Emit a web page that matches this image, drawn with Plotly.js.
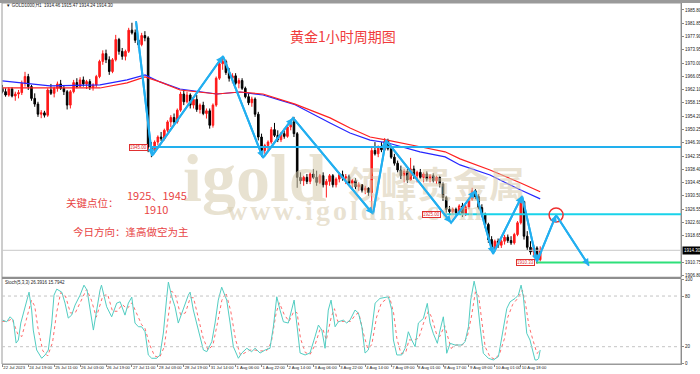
<!DOCTYPE html>
<html><head><meta charset="utf-8">
<script src="https://cdn.plot.ly/plotly-3.0.1.min.js"></script>
<style>html,body{margin:0;padding:0;background:#fff}#chart{width:700px;height:374px}</style>
</head><body><div id="chart"></div>
<script>
// ---- Candles (2-hour steps) ----
const openP = [
1962.5,1961.5,1960.5,1962.3,1960.2,1960.8,1961.2,1964.0,1966.0,1963.0,
1959.5,1957.8,1954.8,1955.2,1954.5,1962.0,1961.0,1962.5,1963.8,1962.5,
1961.5,1957.5,1961.5,1964.2,1963.0,1965.0,1963.8,1964.5,1962.8,1963.5,
1966.0,1970.5,1972.8,1971.0,1967.5,1971.0,1977.0,1973.5,1972.0,1973.5,
1979.8,1979.0,1976.8,1975.5,1978.2,1977.5,1945.0,1944.5,1946.5,1948.0,
1947.5,1950.0,1952.5,1953.8,1952.5,1956.0,1960.8,1958.5,1960.5,1957.5,
1959.2,1956.2,1957.5,1955.0,1955.8,1951.5,1957.5,1965.5,1969.8,1970.5,
1967.2,1965.5,1966.2,1964.0,1964.8,1962.5,1960.0,1958.2,1959.3,1954.8,
1948.0,1944.0,1945.5,1946.5,1950.2,1948.5,1947.2,1949.0,1948.2,1951.0,
1952.5,1949.0,1936.0,1935.0,1936.0,1934.8,1937.0,1936.0,1934.5,1936.5,
1933.8,1934.8,1936.5,1933.8,1935.5,1936.8,1935.8,1936.2,1934.2,1935.0,
1933.2,1933.8,1932.2,1932.8,1931.5,1944.0,1943.0,1945.0,1944.2,1946.8,
1944.5,1942.0,1940.2,1938.2,1936.5,1937.8,1935.2,1938.5,1936.5,1937.5,
1936.0,1937.0,1935.5,1936.5,1935.0,1936.0,1934.0,1930.0,1926.5,1925.8,
1926.5,1925.5,1927.5,1925.0,1927.2,1929.5,1932.0,1930.2,1927.0,1924.8,
1922.0,1917.5,1914.8,1917.0,1915.8,1917.0,1918.2,1917.2,1916.5,1919.0,
1922.5,1928.8,1918.5,1915.2,1913.8,1915.0,1911.5];
const highP = [
1963.5,1962.5,1962.8,1962.8,1961.5,1962.0,1964.8,1967.4,1966.8,1963.5,
1961.0,1958.5,1956.0,1955.8,1962.5,1963.8,1963.0,1964.5,1965.0,1963.5,
1962.0,1962.0,1965.0,1965.5,1965.8,1966.0,1965.0,1965.2,1964.0,1966.5,
1971.0,1973.8,1974.0,1972.0,1971.5,1978.4,1977.5,1974.5,1974.0,1980.5,
1982.0,1980.0,1977.5,1979.0,1979.5,1978.0,1946.5,1947.0,1948.5,1949.5,
1950.5,1953.0,1954.5,1955.0,1956.5,1961.5,1962.0,1961.5,1961.0,1960.0,
1960.5,1958.0,1958.5,1956.5,1956.5,1958.0,1966.0,1970.5,1971.8,1971.0,
1968.5,1967.0,1967.0,1965.5,1965.5,1963.0,1961.0,1960.0,1959.8,1955.5,
1949.0,1946.0,1947.0,1951.0,1952.2,1950.0,1949.5,1950.5,1951.5,1953.0,
1954.0,1949.5,1937.5,1936.5,1937.0,1937.5,1938.5,1938.0,1937.0,1937.5,
1935.5,1937.0,1937.0,1936.0,1937.5,1938.0,1937.0,1936.8,1935.5,1935.8,
1934.5,1934.0,1933.5,1933.0,1945.0,1946.5,1945.5,1946.5,1947.7,1947.5,
1945.0,1943.0,1941.0,1939.5,1938.5,1938.5,1941.8,1939.5,1938.0,1938.5,
1937.5,1937.8,1937.0,1937.2,1936.5,1936.5,1934.5,1930.5,1927.5,1927.0,
1927.0,1928.0,1928.4,1927.8,1930.0,1932.9,1932.5,1931.0,1928.0,1925.5,
1922.5,1918.5,1917.5,1917.8,1917.5,1918.9,1919.0,1918.5,1919.5,1923.0,
1930.2,1929.0,1920.0,1917.0,1916.0,1915.5,1915.47];
const lowP = [
1961.0,1960.0,1960.0,1959.8,1958.8,1959.5,1960.5,1963.0,1962.0,1958.8,
1957.0,1954.0,1953.6,1953.8,1954.0,1960.5,1959.8,1961.5,1962.0,1960.5,
1956.2,1956.5,1961.0,1962.5,1962.8,1963.0,1962.3,1962.0,1961.8,1962.8,
1965.5,1969.5,1970.0,1966.5,1967.0,1970.5,1972.5,1971.0,1970.8,1973.0,
1978.5,1976.0,1974.5,1975.0,1976.5,1943.5,1942.0,1943.5,1945.5,1946.8,
1947.0,1949.5,1951.0,1951.5,1952.0,1955.5,1957.5,1958.0,1956.5,1956.5,
1955.5,1955.0,1954.5,1953.5,1950.5,1950.8,1957.0,1965.0,1968.0,1966.5,
1964.5,1964.0,1963.5,1962.5,1962.0,1959.5,1957.5,1957.0,1954.0,1947.0,
1942.1,1943.0,1944.0,1946.0,1948.0,1946.5,1946.5,1947.5,1947.8,1950.0,
1948.0,1932.9,1934.0,1933.5,1934.0,1934.0,1935.5,1933.5,1934.0,1933.0,
1930.0,1933.5,1933.0,1933.0,1934.5,1935.0,1934.0,1933.5,1932.5,1932.5,
1932.0,1931.5,1931.0,1930.5,1925.5,1942.5,1942.0,1943.5,1943.8,1944.0,
1941.5,1939.5,1937.5,1935.5,1934.5,1934.4,1935.0,1935.5,1934.5,1935.5,
1934.5,1934.8,1934.5,1934.5,1934.0,1933.0,1929.0,1925.5,1925.0,1924.8,
1925.0,1925.0,1924.2,1924.5,1926.5,1929.0,1929.5,1926.5,1924.2,1921.0,
1916.5,1913.8,1914.0,1915.0,1915.0,1916.0,1916.5,1915.9,1916.0,1918.5,
1922.0,1917.5,1914.4,1913.0,1912.4,1910.33,1911.0];
const closeP = [
1961.5,1960.5,1962.3,1960.2,1960.8,1961.2,1964.0,1966.0,1963.0,1959.5,
1957.8,1954.8,1955.2,1954.5,1962.0,1961.0,1962.5,1963.8,1962.5,1961.5,
1957.5,1961.5,1964.2,1963.0,1965.0,1963.8,1964.5,1962.8,1963.5,1966.0,
1970.5,1972.8,1971.0,1967.5,1971.0,1977.0,1973.5,1972.0,1973.5,1979.8,
1979.0,1976.8,1975.5,1978.2,1977.5,1945.0,1944.5,1946.5,1948.0,1947.5,
1950.0,1952.5,1953.8,1952.5,1956.0,1960.8,1958.5,1960.5,1957.5,1959.2,
1956.2,1957.5,1955.0,1955.8,1951.5,1957.5,1965.5,1969.8,1970.5,1967.2,
1965.5,1966.2,1964.0,1964.8,1962.5,1960.0,1958.2,1959.3,1954.8,1948.0,
1944.0,1945.5,1946.5,1950.2,1948.5,1947.2,1949.0,1948.2,1951.0,1952.5,
1949.0,1936.0,1935.0,1936.0,1934.8,1937.0,1936.0,1934.5,1936.5,1933.8,
1934.8,1936.5,1933.8,1935.5,1936.8,1935.8,1936.2,1934.2,1935.0,1933.2,
1933.8,1932.2,1932.8,1931.5,1944.0,1943.0,1945.0,1944.2,1946.8,1944.5,
1942.0,1940.2,1938.2,1936.5,1937.8,1935.2,1938.5,1936.5,1937.5,1936.0,
1937.0,1935.5,1936.5,1935.0,1936.0,1934.0,1930.0,1926.5,1925.8,1926.5,
1925.5,1927.5,1925.0,1927.2,1929.5,1932.0,1930.2,1927.0,1924.8,1922.0,
1917.5,1914.8,1917.0,1915.8,1917.0,1918.2,1917.2,1916.5,1919.0,1922.5,
1928.8,1918.5,1915.2,1913.8,1915.0,1911.5,1914.3];

// ---- Moving averages (sparse readings: bar index, price) ----
const maIdx  = [0,29.4,60.3,77.0,88.1,97.3,109.7,132.5,146.7,160.9,171.4,180.7,202.3,214.6,227.0,237.5,257.8,273.3,282.5,301.0,319.6,332];
const maBlue = [1964.7,1963.2,1963.5,1965.0,1966.5,1964.4,1962.3,1960.8,1961.4,1960.5,1959.0,1957.6,1952.2,1949.2,1947.1,1946.3,1943.6,1942.1,1939.7,1936.7,1932.3,1929.6];
const maRed  = [1962.6,1962.5,1962.6,1964.1,1965.9,1964.4,1962.0,1960.8,1961.4,1960.8,1959.3,1957.8,1953.7,1950.7,1948.0,1947.1,1945.1,1943.6,1941.5,1938.2,1934.4,1931.7];

// ---- Zigzag drawing (bar index, price) ----
const zigIdx   = [82.5,92.4,136.2,160.9,179.4,228.8,236.8,277.0,291.8,302.9,320.8,330.0,341.8,362.1];
const zigPrice = [1982.5,1942.4,1972.1,1941.8,1953.7,1925.1,1947.1,1922.5,1932.0,1913.2,1930.5,1910.9,1924.8,1909.7];

// ---- Key levels ----
const levelPrice = [1945.0, 1925.0, 1910.7];
const levelStart = [91.2, 272.0, 330.0];
const levelColor = ['#22b0ee', '#19d3ea', '#2ee07a'];
const levelTag   = ['1945.00', '1925.00', '1910.33'];
const lastPrice = 1914.30;

// ---- Stochastic (5,3,3) sparse readings ----
const stMainIdx = [0.2,2.7,4.8,6.8,8.5,9.9,11.4,13.0,15.1,16.5,18.1,19.1,21.2,24.3,26.4,28.4,30.5,31.9,33.6,36.7,38.7,40.7,42.8,44.9,48.0,50.4,52.3,56.2,60.3,61.2,64.4,67.5,70.6,72.7,75.7,77.8,79.9,81.9,84.0,86.0,88.1,90.1,92.2,95.3,97.3,99.4,101.5,102.5,104.6,106.6,108.6,110.7,112.8,114.8,115.9,117.9,121.0,124.1,126.2,129.3,131.3,133.3,135.4,138.5,140.6,142.6,145.7,147.8,150.9,153.9,156.0,159.1,162.2,165.2,167.3,169.4,171.4,173.5,176.5,178.6,180.1,181.7,183.8,186.9,189.9,193.0,195.1,197.2,199.2,201.2,202.9,205.4,207.4,210.5,212.6,214.6,217.7,219.8,221.9,223.9,225.9,228.0,230.1,233.1,238.3,240.4,241.4,243.5,246.5,248.6,250.6,252.7,254.8,256.8,259.9,262.3,264.0,266.0,268.5,270.2,272.2,273.3,274.3,276.4,279.4,283.6,285.6,287.7,289.1,291.2,292.8,294.9,296.9,300.0,303.1,306.2,309.3,311.4,313.4,316.5,318.5,320.2,321.6,323.7,325.7,327.4,328.8,330.0,331.0,332];
const stMain = [51.5,49.5,55.4,51.5,24.3,27.9,48.0,59.8,73.2,84.6,63.4,39.7,16.1,6.3,10.2,16.1,48.0,81.1,88.2,84.6,71.6,53.9,57.4,69.3,81.1,92.9,87.0,39.7,87.0,92.9,67.3,55.4,71.6,73.2,57.4,71.6,78.7,48.0,43.6,43.6,37.7,10.2,6.3,6.3,10.2,36.2,79.1,96.5,79.1,67.3,48.0,59.8,71.6,81.1,84.6,63.4,39.7,16.1,14.1,25.9,48.0,75.2,90.5,75.2,48.0,20.0,6.3,12.5,18.1,14.1,18.1,12.5,16.1,18.1,43.6,79.1,63.4,49.5,48.0,63.4,75.2,48.0,12.5,10.2,12.5,31.8,45.6,39.7,18.1,63.4,75.2,43.6,49.5,51.5,48.0,51.5,63.4,59.8,43.6,12.5,16.1,39.7,71.6,77.2,79.1,63.4,27.9,10.2,10.2,18.1,37.7,27.9,20.0,48.0,53.5,71.3,48.0,35.8,24.0,39.7,55.4,35.8,12.2,24.0,22.0,22.0,25.9,43.6,75.2,97.6,83.1,43.6,12.2,6.3,4.3,8.2,39.7,65.4,73.2,77.2,81.1,92.9,79.1,35.8,27.9,14.1,4.3,4.3,6.0,16.1,26.39];
const stSigIdx = [0,3,6,9.5,12,15,18,20,22,25,28,31,33.5,36,39,42,45,48,52,55,58,62,65,68,71,74,77,80,83,86,88,91,94,97,100,102.5,104.5,107,110,113,116,118,121,124,127,130,133,135.5,138,141,144,147,150,153,156,159,163,166,169,171,174,177,180,182,184,187,190,193,196,198,200,203,205,207,211,215,218,220,223,225.5,228,231,234,239,241.5,243.5,246,249,251,254,257,260,263,265,268,270,273,275,277,280,284,287,289.5,292,294,296,298,301,304,307,310,312,315,318,321,323,325,327.5,330,332];
const stSig = [50,50,53,35,32,55,75,68,42,15,9,25,60,84,80,60,60,72,88,75,55,80,82,62,62,70,65,72,60,46,42,22,9,7,20,60,86,80,58,60,78,78,55,30,16,22,50,75,84,62,28,10,13,16,16,15,15,25,60,72,58,50,62,60,30,13,11,22,40,40,28,55,65,50,50,50,58,60,35,18,22,55,72,79,60,30,12,13,28,28,30,48,62,55,35,32,45,30,18,22,22,32,55,85,80,50,20,8,5,12,30,55,70,77,87,70,45,28,12,15.79];
const stLevels = [20, 80];

// ---- Axis ticks ----
const xTickVals = [0,16,32,48,64,80,96,112,128,144,160,176,192,208,224,240,256,272,288,304,320];
const xTickText = ['22 Jul 2023','24 Jul 19:00','25 Jul 11:00','26 Jul 03:00','26 Jul 19:00','27 Jul 11:00','28 Jul 03:00','28 Jul 19:00','31 Jul 14:00','1 Aug 06:00','1 Aug 22:00','2 Aug 14:00','3 Aug 06:00','3 Aug 22:00','4 Aug 14:00','7 Aug 09:00','8 Aug 01:00','8 Aug 17:00','9 Aug 09:00','10 Aug 01:00','10 Aug 18:00'];
const yTickVals = [1985.80,1981.85,1977.90,1973.95,1970.00,1966.05,1962.10,1958.15,1954.20,1950.25,1946.30,1942.35,1938.40,1934.45,1930.50,1926.55,1922.60,1918.65,1910.75,1906.80];
const yTickText = ['1985.80','1981.85','1977.90','1973.95','1970.00','1966.05','1962.10','1958.15','1954.20','1950.25','1946.30','1942.35','1938.40','1934.45','1930.50','1926.55','1922.60','1918.65','1910.75','1906.80'];
const stTickVals = [0,20,80,100];
const stTickText = ['0','20','80','100'];

const barIdx = closeP.map((_, k) => 2 * k);
const xRange = [-0.2, 418.9];
const tiny = {family: 'Liberation Sans, Arial, sans-serif', size: 4.5, color: '#222'};
const xTiny = {family: 'Liberation Sans Narrow, Liberation Sans, Arial, sans-serif', size: 4.2, color: '#222'};
const zigColor = '#22aff0';
const redText = '#e84545';
const cjk = 'Noto Sans CJK SC, sans-serif';

const traces = [
  {type: 'candlestick', x: barIdx, open: openP, high: highP, low: lowP, close: closeP,
   xaxis: 'x', yaxis: 'y', whiskerwidth: 0, hoverinfo: 'skip',
   increasing: {line: {color: '#ff1a1a', width: 1}, fillcolor: '#ff1a1a'},
   decreasing: {line: {color: '#000000', width: 1}, fillcolor: '#000000'}},
  {type: 'scatter', mode: 'lines', x: maIdx, y: maBlue, line: {color: '#2626ff', width: 1.2}, xaxis: 'x', yaxis: 'y', hoverinfo: 'skip'},
  {type: 'scatter', mode: 'lines', x: maIdx, y: maRed, line: {color: '#ff2020', width: 1.2}, xaxis: 'x', yaxis: 'y', hoverinfo: 'skip'},
  {type: 'scatter', mode: 'lines', x: zigIdx, y: zigPrice, line: {color: zigColor, width: 2}, xaxis: 'x', yaxis: 'y', hoverinfo: 'skip', cliponaxis: false},
  {type: 'scatter', mode: 'lines', x: stSigIdx, y: stSig, line: {color: '#ff6b6b', width: 1, dash: 'dot'}, xaxis: 'x', yaxis: 'y2', hoverinfo: 'skip'},
  {type: 'scatter', mode: 'lines', x: stMainIdx, y: stMain, line: {color: '#52cdc2', width: 1}, xaxis: 'x', yaxis: 'y2', hoverinfo: 'skip'}
];

const shapes = [];
shapes.push({type: 'rect', xref: 'paper', yref: 'paper', x0: 0, x1: 1, y0: 0, y1: 1, line: {color: '#9a9a9a', width: 1}});
shapes.push({type: 'rect', xref: 'paper', yref: 'paper', x0: -0.003, x1: 1.03, y0: 1.0, y1: 1.008, fillcolor: '#9a9a9a', line: {width: 0}});
shapes.push({type: 'rect', xref: 'paper', yref: 'paper', x0: 0, x1: 1, y0: 0.2355, y1: 0.2415, fillcolor: '#8f8f8f', line: {width: 0}});
shapes.push({type: 'line', xref: 'paper', yref: 'y', x0: 0, x1: 1, y0: lastPrice, y1: lastPrice, line: {color: '#c8c8c8', width: 1}});
levelPrice.forEach((p, i) => shapes.push({type: 'line', xref: 'x', yref: 'y', x0: levelStart[i], x1: xRange[1], y0: p, y1: p, line: {color: levelColor[i], width: 2}}));
stLevels.forEach(v => shapes.push({type: 'line', xref: 'paper', yref: 'y2', x0: 0, x1: 1, y0: v, y1: v, line: {color: '#c4c4c4', width: 1, dash: 'dot'}}));
shapes.push({type: 'circle', xref: 'x', yref: 'y', xsizemode: 'pixel', ysizemode: 'pixel',
  xanchor: zigIdx[12], yanchor: zigPrice[12], x0: -7, x1: 7, y0: -7, y1: 7, line: {color: '#ee3030', width: 1.5}});

const ann = [];
const wm = 'rgba(214,202,172,0.55)';
const serif = 'Liberation Serif, DejaVu Serif, serif';
ann.push({xref: 'paper', yref: 'paper', x: 0.372, y: 0.515, xanchor: 'center', yanchor: 'middle', text: '<b>igold</b>', showarrow: false, font: {family: serif, size: 68, color: wm}});
ann.push({xref: 'paper', yref: 'paper', x: 0.637, y: 0.505, xanchor: 'center', yanchor: 'middle', text: '<b>领峰贵金属</b>', showarrow: false, font: {family: cjk, size: 36, color: wm}});
ann.push({xref: 'paper', yref: 'paper', x: 0.521, y: 0.425, xanchor: 'center', yanchor: 'middle', text: '<b><span style="letter-spacing:3px">www.igoldhk.com</span></b>', showarrow: false, font: {family: serif, size: 28, color: wm}});
for (let i = 1; i < zigIdx.length; i++) {
  ann.push({xref: 'x', yref: 'y', axref: 'x', ayref: 'y', x: zigIdx[i], y: zigPrice[i], ax: zigIdx[i-1], ay: zigPrice[i-1],
    text: '', showarrow: true, arrowhead: 2, arrowsize: 0.7, arrowwidth: 2, arrowcolor: zigColor});
}
levelPrice.forEach((p, i) => ann.push({xref: 'x', yref: 'y', x: levelStart[i] - 1, y: p, xanchor: 'right', yanchor: 'middle', text: levelTag[i], showarrow: false,
  font: {family: tiny.family, size: 4.5, color: '#e03030'}, bgcolor: '#fff', bordercolor: '#e03030', borderwidth: 1, borderpad: 0}));
const textAnn = (x, y, text, size, color) => ({xref: 'paper', yref: 'paper', x: x, y: y, xanchor: 'center', yanchor: 'middle', text: text, showarrow: false, font: {family: cjk, size: size, color: color}});
ann.push(textAnn(0.502, 0.9086, '黄金1小时周期图', 14, '#f03c3c'));
ann.push(textAnn(0.134, 0.446, '关键点位：', 10.5, redText));
ann.push(textAnn(0.228, 0.468, '1925、1945', 11, redText));
ann.push(textAnn(0.227, 0.429, '1910', 11, redText));
ann.push(textAnn(0.190, 0.368, '今日方向：逢高做空为主', 10.5, redText));
ann.push({xref: 'paper', yref: 'paper', x: 0.003, y: 0.994, xanchor: 'left', yanchor: 'middle', text: '▼ GOLD1000,H1  1914.46 1915.47 1914.24 1914.30', showarrow: false, font: tiny});
ann.push({xref: 'paper', yref: 'paper', x: 0.002, y: 0.227, xanchor: 'left', yanchor: 'middle', text: 'Stoch(5,3,3) 26.3916 15.7942', showarrow: false, font: tiny});
ann.push({xref: 'paper', yref: 'y', x: 1.002, y: lastPrice, xanchor: 'left', yanchor: 'middle', text: lastPrice.toFixed(2), showarrow: false,
  font: {family: tiny.family, size: 4.5, color: '#fff'}, bgcolor: '#000', borderpad: 1});

const layout = {
  width: 700, height: 374,
  margin: {l: 2, r: 19, t: 3, b: 10, pad: 0},
  paper_bgcolor: '#fff', plot_bgcolor: '#fff',
  showlegend: false,
  xaxis: {type: 'linear', range: xRange, anchor: 'y2', tickvals: xTickVals, ticktext: xTickText, tickangle: 0,
    ticks: 'outside', ticklen: 2, tickcolor: '#888', tickfont: xTiny, ticklabelposition: 'outside right', ticklabelstandoff: -1,
    showgrid: false, zeroline: false, showline: true, linecolor: '#9a9a9a', rangeslider: {visible: false}, fixedrange: true},
  yaxis: {domain: [0.2415, 1], range: [1906.41, 1987.88], side: 'right', anchor: 'x', tickvals: yTickVals, ticktext: yTickText,
    ticks: 'outside', ticklen: 2, tickcolor: '#888', tickfont: tiny, showgrid: false, zeroline: false,
    showline: true, linecolor: '#808080', fixedrange: true},
  yaxis2: {domain: [0, 0.2355], range: [-0.5, 100.2], side: 'right', anchor: 'x', tickvals: stTickVals, ticktext: stTickText,
    ticks: 'outside', ticklen: 2, tickcolor: '#888', tickfont: tiny, showgrid: false, zeroline: false,
    showline: true, linecolor: '#808080', fixedrange: true},
  shapes: shapes,
  annotations: ann
};

Plotly.newPlot('chart', traces, layout, {staticPlot: true, displayModeBar: false});
</script>
</body></html>
